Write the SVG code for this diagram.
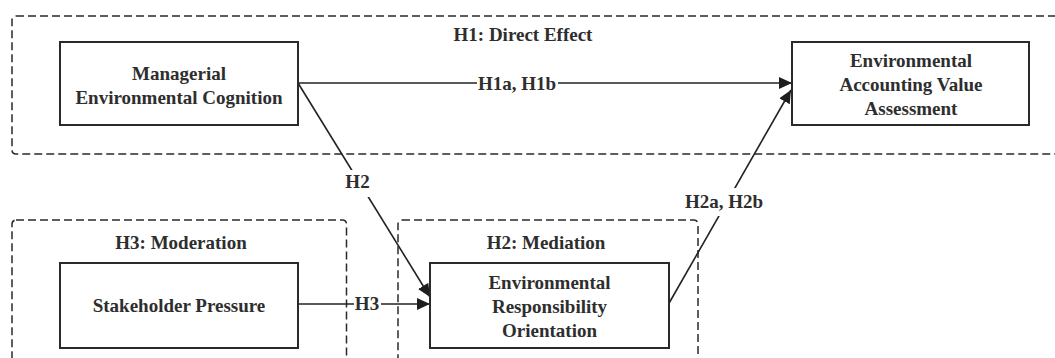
<svg xmlns="http://www.w3.org/2000/svg" width="1055" height="358" viewBox="0 0 1055 358">
  <style>
    .grp { fill: none; stroke: #2a2a2a; stroke-width: 1.5; stroke-dasharray: 8 4; }
    .node { fill: #ffffff; stroke: #2a2a2a; stroke-width: 2; }
    .txt { font-family: "Liberation Serif", "Times New Roman", serif; font-weight: bold; font-size: 19px; fill: #2e2e2e; text-anchor: middle; }
    .edge { fill: none; stroke: #222222; stroke-width: 1.6; }
    .lblbg { fill: #ffffff; stroke: none; }
  </style>
  <defs>
    <marker id="arrow" markerUnits="userSpaceOnUse" markerWidth="14" markerHeight="12" refX="13" refY="6" orient="auto">
      <path d="M0,0 L13,6 L0,12 z" fill="#1e1e1e"/>
    </marker>
  </defs>
  <rect width="1055" height="358" fill="#ffffff"/>

  <g id="groups">
    <g id="group-h1">
      <rect class="grp" x="12" y="16" width="1060" height="138" rx="4"/>
      <text class="txt" x="523" y="41">H1: Direct Effect</text>
    </g>
    <g id="group-h3">
      <rect class="grp" x="12" y="220" width="334.5" height="160" rx="4"/>
      <text class="txt" x="181" y="249">H3: Moderation</text>
    </g>
    <g id="group-h2">
      <rect class="grp" x="398" y="220" width="300" height="160" rx="4"/>
      <text class="txt" x="546" y="249">H2: Mediation</text>
    </g>
  </g>

  <g id="connectors">
    <line class="edge" x1="298" y1="83" x2="792" y2="83" marker-end="url(#arrow)"/>
    <line class="edge" x1="298" y1="83" x2="430" y2="297" marker-end="url(#arrow)"/>
    <line class="edge" x1="298" y1="304" x2="430" y2="304" marker-end="url(#arrow)"/>
    <line class="edge" x1="668" y1="305" x2="791" y2="90" marker-end="url(#arrow)"/>
    <g id="label-h1ab">
      <rect class="lblbg" x="477" y="72" width="81" height="22"/>
      <text class="txt" x="517" y="90">H1a, H1b</text>
    </g>
    <g id="label-h2">
      <rect class="lblbg" x="345" y="170" width="25" height="27"/>
      <text class="txt" x="357.5" y="188">H2</text>
    </g>
    <g id="label-h3">
      <rect class="lblbg" x="354" y="294" width="27" height="20"/>
      <text class="txt" x="367" y="310">H3</text>
    </g>
    <g id="label-h2ab">
      <rect class="lblbg" x="684" y="188" width="80" height="28"/>
      <text class="txt" x="724" y="208">H2a, H2b</text>
    </g>
  </g>

  <g id="node-mec">
    <rect class="node" x="60" y="42" width="238" height="83"/>
    <text class="txt" x="179" y="80">Managerial</text>
    <text class="txt" x="179" y="103.5">Environmental Cognition</text>
  </g>
  <g id="node-eav">
    <rect class="node" x="792" y="42" width="237" height="83"/>
    <text class="txt" x="911" y="67">Environmental</text>
    <text class="txt" x="911" y="91">Accounting Value</text>
    <text class="txt" x="911" y="115">Assessment</text>
  </g>
  <g id="node-sp">
    <rect class="node" x="60" y="263" width="238" height="85"/>
    <text class="txt" x="179" y="312">Stakeholder Pressure</text>
  </g>
  <g id="node-ero">
    <rect class="node" x="430" y="263" width="239" height="85"/>
    <text class="txt" x="549.5" y="288.5">Environmental</text>
    <text class="txt" x="549.5" y="312.5">Responsibility</text>
    <text class="txt" x="549.5" y="336.5">Orientation</text>
  </g>
</svg>
